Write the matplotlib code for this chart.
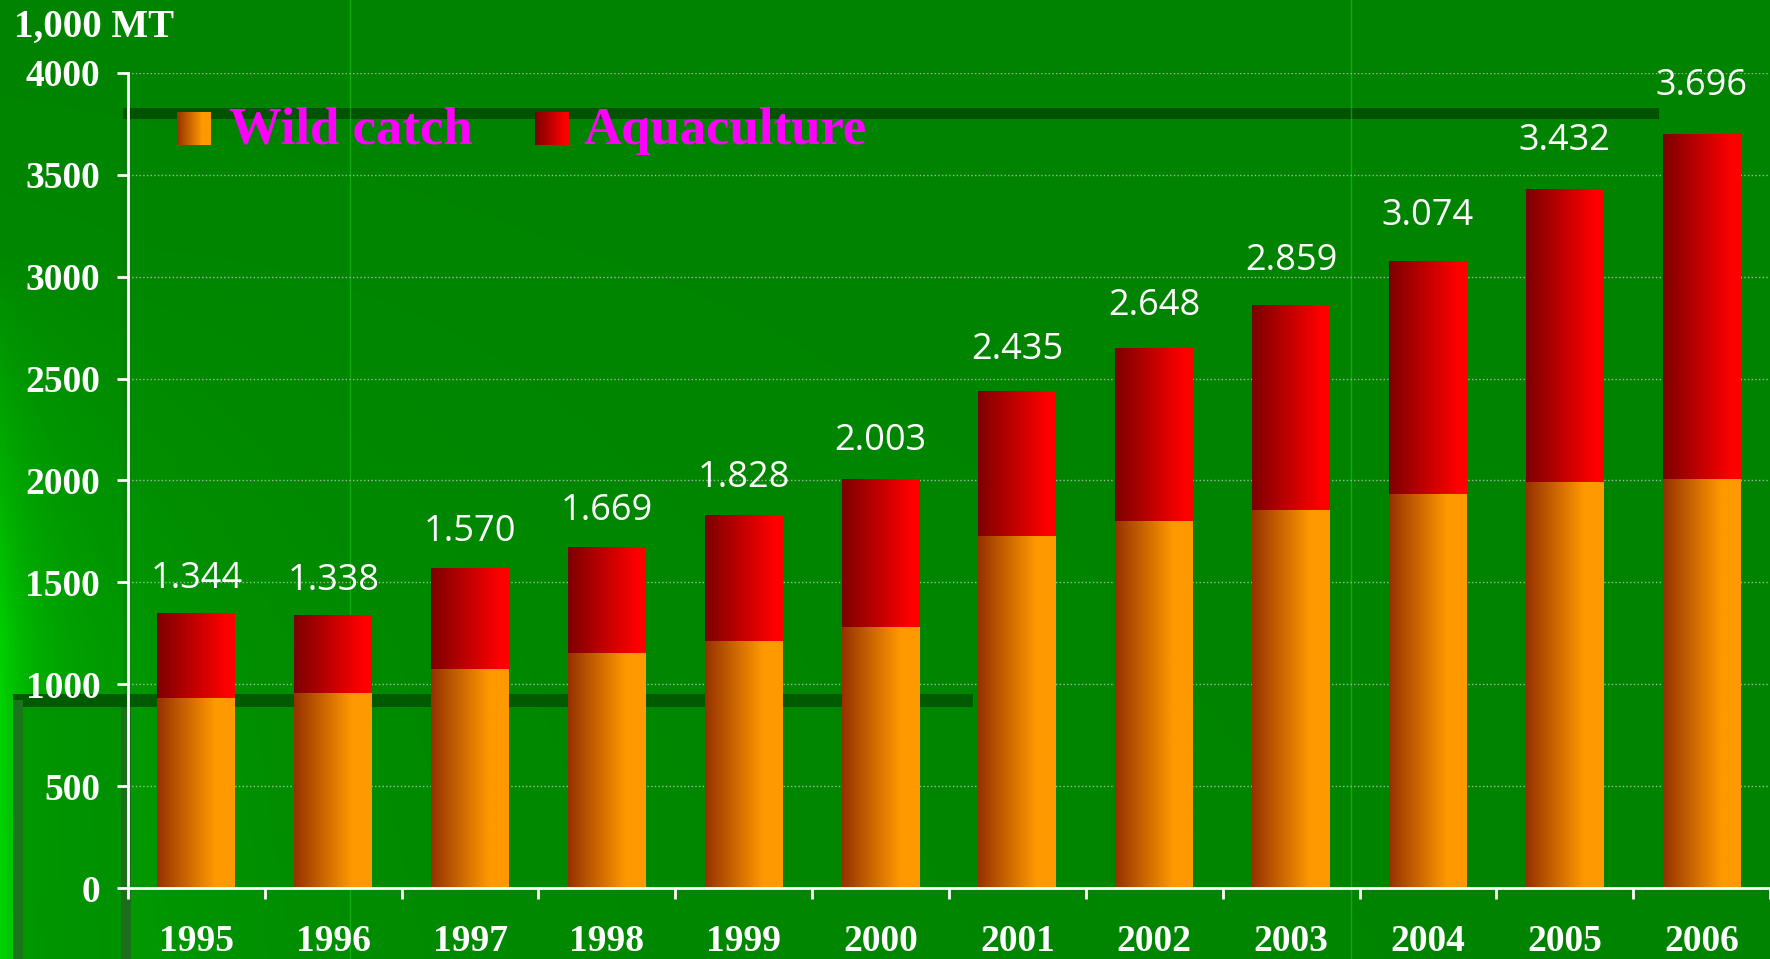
import numpy as np
import matplotlib.pyplot as plt
from matplotlib.patches import Rectangle

years = ["1995", "1996", "1997", "1998", "1999", "2000",
         "2001", "2002", "2003", "2004", "2005", "2006"]
totals = [1344, 1338, 1570, 1669, 1828, 2003, 2435, 2648, 2859, 3074, 3432, 3696]
total_labels = ["1.344", "1.338", "1.570", "1.669", "1.828", "2.003",
                "2.435", "2.648", "2.859", "3.074", "3.432", "3.696"]
wild_catch = [931, 958, 1075, 1152, 1213, 1280, 1728, 1800, 1856, 1933, 1994, 2005]
aquaculture = [t - w for t, w in zip(totals, wild_catch)]
series_names = ["Wild catch", "Aquaculture"]
y_ticks = [0, 500, 1000, 1500, 2000, 2500, 3000, 3500, 4000]

W, H = 1770, 959
SERIF = ["Liberation Serif", "DejaVu Serif"]


def gradient(c0, c1, stop, n=128):
    # horizontal colour ramp, flat after `stop`
    t = np.clip(np.linspace(0, 1, n) / stop, 0, 1)[None, :, None]
    c0 = np.array(c0)[None, None, :] / 255
    c1 = np.array(c1)[None, None, :] / 255
    return c0 + (c1 - c0) * t


ORANGE = gradient((150, 50, 0), (255, 153, 0), 0.75)
RED = gradient((125, 0, 0), (255, 0, 0), 0.9)

fig = plt.figure(figsize=(W / 100, H / 100), dpi=100)

# slide background: green, brighter towards the lower left
bg = fig.add_axes([0, 0, 1, 1], zorder=0)
bg.axis("off")
xx, yy = np.meshgrid(np.arange(W), np.arange(H))
ramp = np.clip((yy - 250) / 400, 0, 1)
glow = ramp * (40 * np.exp(-xx / 30.0) + 30 * np.exp(-xx / 160.0)) + 10 * np.exp(-xx / 600.0) * (yy / H)
img = np.zeros((H, W, 3))
img[..., 1] = np.clip(132 + glow, 0, 255) / 255
bg.imshow(img, extent=[0, W, H, 0], aspect="auto")
bg.add_patch(Rectangle((123, 108), 1536, 11, color="#005400", lw=0))
bg.add_patch(Rectangle((123, 119), 8, H - 119, color="#1b6e1b", lw=0, alpha=0.35))
bg.add_patch(Rectangle((13, 694), 960, 13, color="#005a00", lw=0))
bg.add_patch(Rectangle((23, 707), 100, H - 707, color="#008e00", lw=0, alpha=0.75))
bg.add_patch(Rectangle((13, 700), 10, H - 700, color="#1b761b", lw=0))
bg.add_patch(Rectangle((121, 707), 10, H - 707, color="#1b6e1b", lw=0))
bg.axvline(350, color="#22cc22", lw=1, alpha=0.5)
bg.axvline(1351, color="#22cc22", lw=1, alpha=0.5)
bg.set_xlim(0, W)
bg.set_ylim(H, 0)

# main chart
ax = fig.add_axes([128 / W, 71 / H, 1 - 128 / W, (888 - 73) / H], zorder=1)
ax.patch.set_alpha(0)
x = np.arange(len(years))
width = 0.57
b1 = ax.bar(x, wild_catch, width, color="none", lw=0)
b2 = ax.bar(x, aquaculture, width, bottom=wild_catch, color="none", lw=0)
for bars, grad in ((b1, ORANGE), (b2, RED)):
    for r in bars:
        x0, y0 = r.get_x(), r.get_y()
        ax.imshow(grad, extent=[x0, x0 + r.get_width(), y0, y0 + r.get_height()],
                  aspect="auto", zorder=2, interpolation="bilinear")

for xi, t, lab in zip(x, totals, total_labels):
    ax.annotate(lab, (xi, t), xytext=(0, 25 + (t - 1344) * 0.0045),
                textcoords="offset points", ha="center", va="center",
                color="white", fontsize=26, family="Open Sans")

ax.set_xlim(-0.5, 11.5)
ax.set_ylim(0, 4000)
ax.set_yticks(y_ticks)
ax.set_yticklabels([str(v) for v in y_ticks], family=SERIF, weight="bold",
                   fontsize=27, color="white")
ax.set_xticks(x)
ax.set_xticklabels(years, family=SERIF, weight="bold", fontsize=27, color="white")
ax.set_xticks(np.arange(-0.5, 12, 1), minor=True)
ax.tick_params(axis="x", which="major", length=0, pad=26)
ax.tick_params(axis="x", which="minor", length=8, width=2, color="white", direction="out")
ax.tick_params(axis="y", length=8, width=2, color="white", pad=12)
ax.grid(axis="y", color="#c8c8c8", linestyle=":", linewidth=1, alpha=0.8)
ax.set_axisbelow(True)
for side in ("top", "right"):
    ax.spines[side].set_visible(False)
for side in ("left", "bottom"):
    ax.spines[side].set_color("white")
    ax.spines[side].set_linewidth(2)

fig.text(14 / W, 1 - 27 / H, "1,000 MT", family=SERIF, weight="bold",
         fontsize=28, color="white", va="center", ha="left")

# legend
for sq_x, txt_x, grad, name in ((177, 229, ORANGE, series_names[0]),
                                (535, 583, RED, series_names[1])):
    sq = fig.add_axes([sq_x / W, 1 - 145 / H, 34 / W, 33 / H], zorder=2)
    sq.imshow(grad, aspect="auto", interpolation="bilinear")
    sq.axis("off")
    fig.text(txt_x / W, 1 - 131 / H, name, family=SERIF, weight="bold",
             fontsize=38, color="#ff00ff", va="center", ha="left")

fig.savefig("out.png", dpi=100)
